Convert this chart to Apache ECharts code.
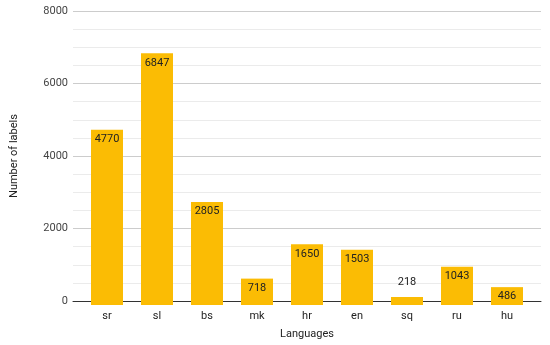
<!DOCTYPE html>
<html><head><meta charset="utf-8">
<script src="https://cdn.jsdelivr.net/npm/echarts@6/dist/echarts.min.js"></script>
<style>html,body{margin:0;padding:0;background:#fff}#c{width:550px;height:345px}</style>
</head><body><div id="c"></div>
<script>
const categories = ['sr','sl','bs','mk','hr','en','sq','ru','hu'];
const labelCounts = [4770, 6847, 2805, 718, 1650, 1503, 218, 1043, 486];
const yTicks = [0, 2000, 4000, 6000, 8000];
const outsideLabel = ['sq'];

const font = 'Roboto, "Noto Sans", sans-serif';
const chart = echarts.init(document.getElementById('c'));
const data = labelCounts.map((v, i) => {
  const outside = outsideLabel.includes(categories[i]);
  return {
    value: v,
    label: outside ? {position: 'top', distance: 9} : {position: 'insideTop', distance: 4}
  };
});
chart.setOption({
  animation: false,
  textStyle: {fontFamily: font},
  grid: [
    {left: 82, right: 18, top: 11, bottom: 40},
    {left: 73, right: 9, top: 11, bottom: 40}
  ],
  xAxis: [
    {type: 'category', gridIndex: 0, data: categories,
     axisLine: {show: false}, axisTick: {show: false},
     axisLabel: {color: '#222', fontSize: 11, margin: 6, fontFamily: font}},
    {type: 'value', gridIndex: 1, min: 0, max: 1,
     axisLine: {show: true, lineStyle: {color: '#333', width: 1}},
     axisTick: {show: false}, axisLabel: {show: false}, splitLine: {show: false},
     name: 'Languages', nameLocation: 'middle', nameGap: 28,
     nameTextStyle: {color: '#222', fontSize: 11, fontFamily: font}}
  ],
  yAxis: [
    {type: 'value', gridIndex: 1, min: yTicks[0], max: yTicks[yTicks.length-1], interval: 2000,
     axisLine: {show: false}, axisTick: {show: false},
     axisLabel: {color: '#444', fontSize: 11, margin: 5, fontFamily: font,
                 formatter: v => yTicks.includes(v) ? String(v) : ''},
     splitLine: {lineStyle: {color: '#cccccc'}},
     minorTick: {show: false, splitNumber: 4},
     minorSplitLine: {show: true, lineStyle: {color: '#ebebeb'}},
     name: 'Number of labels', nameLocation: 'middle', nameGap: 53, nameRotate: 90,
     nameTextStyle: {color: '#222', fontSize: 11, fontFamily: font}},
    {type: 'value', gridIndex: 0, min: yTicks[0], max: yTicks[yTicks.length-1], interval: 2000,
     show: false, splitLine: {show: false}}
  ],
  series: [{
    type: 'bar', xAxisIndex: 0, yAxisIndex: 1, data: data,
    barWidth: 32,
    itemStyle: {color: '#fbbc04'},
    label: {show: true, color: '#222', fontSize: 11, fontFamily: font}
  }]
});
</script></body></html>
